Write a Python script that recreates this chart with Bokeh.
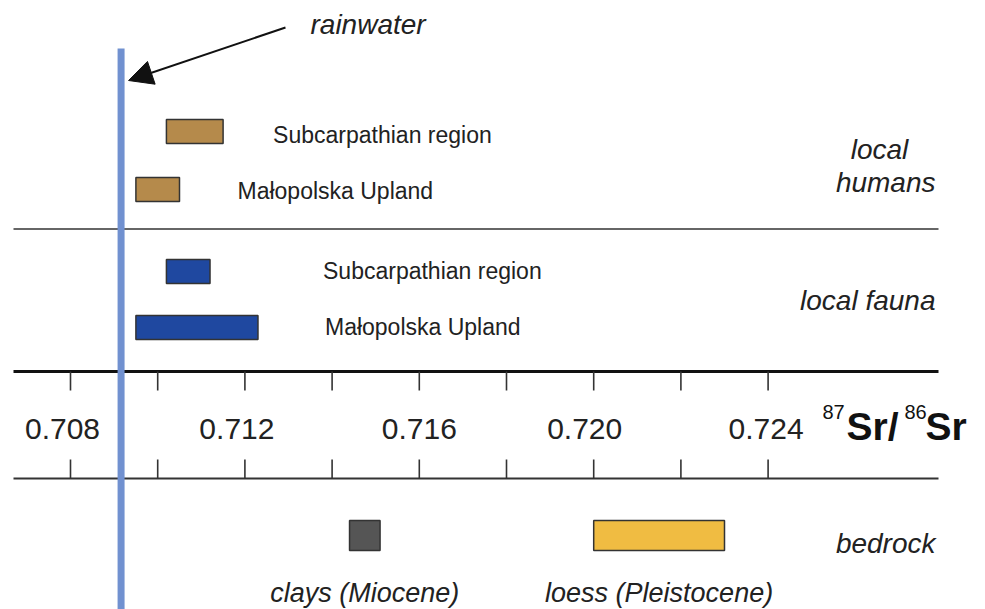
from bokeh.plotting import figure
from bokeh.models import Range1d, Arrow, NormalHead
from bokeh.core.properties import value
from bokeh.embed import file_html
from bokeh.resources import INLINE

# ---------------- data ----------------
rainwater = 0.70916
human_labels = ["Subcarpathian region", "Małopolska Upland"]
human_lo = [0.7102, 0.7095]
human_hi = [0.7115, 0.7105]
fauna_labels = ["Subcarpathian region", "Małopolska Upland"]
fauna_lo = [0.7102, 0.7095]
fauna_hi = [0.7112, 0.7123]
bedrock_labels = ["clays (Miocene)", "loess (Pleistocene)"]
bedrock_lo = [0.7144, 0.7200]
bedrock_hi = [0.7151, 0.7230]
tick_values = [0.708, 0.710, 0.712, 0.714, 0.716, 0.718, 0.720, 0.722, 0.724]
tick_label_values = [0.708, 0.712, 0.716, 0.720, 0.724]
tick_labels = ["0.708", "0.712", "0.716", "0.720", "0.724"]

# ---------------- layout ----------------
W, H = 985, 609
PX_PER_UNIT = 43600.0
X0 = 0.708 - 70 / PX_PER_UNIT
X1 = X0 + W / PX_PER_UNIT


def px(xpage):
    return X0 + xpage / PX_PER_UNIT


p = figure(width=W, height=H, output_backend="svg", toolbar_location=None,
           x_range=Range1d(X0, X1), y_range=Range1d(H, 0),
           x_axis_location=None, y_axis_location=None,
           min_border=0, min_border_left=0, min_border_right=0,
           min_border_top=0, min_border_bottom=0)
p.outline_line_color = None
p.grid.visible = False
p.background_fill_color = "white"

FONT = value("Liberation Sans")
TXT = "#222222"

# horizontal rules
p.segment(x0=[px(13)], x1=[px(938)], y0=[228.5], y1=[228.5], line_color="#333333", line_width=1.6)
p.segment(x0=[px(13)], x1=[px(938)], y0=[371], y1=[371], line_color="#111111", line_width=3)
p.segment(x0=[px(13)], x1=[px(938)], y0=[478], y1=[478], line_color="#333333", line_width=2)

# ticks
p.segment(x0=tick_values, x1=tick_values, y0=[371] * len(tick_values), y1=[390] * len(tick_values),
          line_color="#333333", line_width=1.6)
p.segment(x0=tick_values, x1=tick_values, y0=[459] * len(tick_values), y1=[478] * len(tick_values),
          line_color="#333333", line_width=1.6)
p.text(x=tick_label_values, y=[428] * len(tick_labels), text=tick_labels,
       x_offset=[-8, -8, 0, -9, -2],
       text_font=FONT, text_font_size="30px", text_color=TXT,
       text_align="center", text_baseline="middle")

# axis title 87Sr/86Sr
p.text(x=[px(822), px(904)], y=[411, 411], text=["87", "86"], text_font=FONT,
       text_font_size="20px", text_color="#111111", text_align="left", text_baseline="middle")
p.text(x=[px(846), px(925)], y=[426, 426], text=["Sr/", "Sr"], text_font=FONT,
       text_font_size="39px", text_font_style="bold", text_color="#111111",
       text_align="left", text_baseline="middle")

# bars
bar_line = "#333333"
p.quad(left=human_lo, right=human_hi, top=[119, 177], bottom=[143, 201],
       fill_color="#b58a4b", line_color=bar_line, line_width=1.5)
p.quad(left=fauna_lo, right=fauna_hi, top=[259, 315], bottom=[283, 339],
       fill_color="#1f48a0", line_color=bar_line, line_width=1.5)
p.quad(left=bedrock_lo, right=bedrock_hi, top=[520, 520], bottom=[550, 550],
       fill_color=["#555555", "#f0bc42"], line_color=bar_line, line_width=1.5)

# bar labels
p.text(x=human_hi, y=[134, 190], text=human_labels, x_offset=[50, 58], text_font=FONT,
       text_font_size="23px", text_color=TXT, text_align="left", text_baseline="middle")
p.text(x=fauna_hi, y=[270, 326], text=fauna_labels, x_offset=[113, 67], text_font=FONT,
       text_font_size="23px", text_color=TXT, text_align="left", text_baseline="middle")
p.text(x=[(a + b) / 2 for a, b in zip(bedrock_lo, bedrock_hi)], y=[592, 592], text=bedrock_labels,
       x_offset=[0, 0], text_font=FONT, text_font_size="27px", text_font_style="italic",
       text_color=TXT, text_align="center", text_baseline="middle")

# group labels (right side)
p.text(x=[px(879), px(935)], y=[149, 182], text=["local", "humans"], text_font=FONT,
       text_font_size="28px", text_font_style="italic", text_color=TXT,
       text_align=["center", "right"], text_baseline="middle")
p.text(x=[px(935), px(935)], y=[300, 543], text=["local fauna", "bedrock"], text_font=FONT,
       text_font_size="28px", text_font_style="italic", text_color=TXT,
       text_align="right", text_baseline="middle")

# rainwater line
p.segment(x0=[rainwater], x1=[rainwater], y0=[48], y1=[H], line_color="#7191d0",
          line_width=7, line_cap="butt")
p.text(x=[px(310)], y=[24], text=["rainwater"], text_font=FONT, text_font_size="28px",
       text_font_style="italic", text_color=TXT, text_align="left", text_baseline="middle")
p.add_layout(Arrow(x_start=px(285), y_start=27, x_end=rainwater + 7.5 / PX_PER_UNIT, y_end=80,
                   line_color="#111111", line_width=2,
                   end=NormalHead(size=24, fill_color="#111111", line_color="#111111")))

open("out.html", "w").write(file_html(p, INLINE))
